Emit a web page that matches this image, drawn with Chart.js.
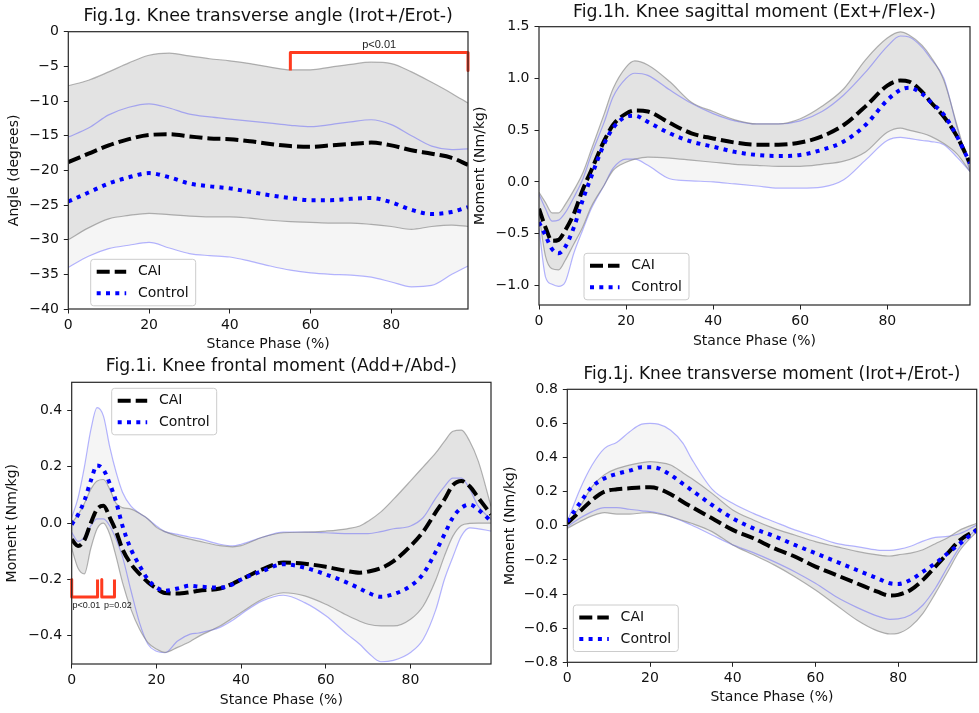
<!DOCTYPE html>
<html>
<head>
<meta charset="utf-8">
<title>Knee angle and moments, CAI vs Control</title>
<script src="https://cdn.jsdelivr.net/npm/chart.js@4.4.1/dist/chart.umd.min.js"></script>
<style>
  html, body { margin: 0; padding: 0; background: #fff; }
  #figure { position: relative; width: 979px; height: 713px; overflow: hidden; }
  #figure canvas { position: absolute; }
</style>
</head>
<body>
<div id="figure"></div>
<script>
// ---------- shared ----------
const xTickValues = [0, 20, 40, 60, 80];
const seriesNames = ['CAI', 'Control'];

// ---------- Fig.1g knee transverse angle (deg) ----------
const gStance   = [0, 5, 10, 15, 20, 25, 30, 35, 40, 45, 50, 55, 60, 65, 70, 75, 80, 85, 90, 95, 99];
const gCaiMean  = [-18.8, -17.6, -16.4, -15.5, -14.9, -14.8, -15.1, -15.4, -15.5, -15.8, -16.2, -16.5, -16.6, -16.4, -16.2, -16.0, -16.4, -17.1, -17.6, -18.2, -19.2];
const gCaiUpper = [-7.8, -7.0, -5.8, -4.5, -3.4, -3.1, -3.5, -3.9, -4.2, -4.6, -5.1, -5.5, -5.5, -5.1, -4.7, -4.4, -4.6, -5.8, -7.3, -8.9, -10.3];
const gCaiLower = [-30.0, -28.3, -27.0, -26.5, -26.2, -26.4, -26.6, -26.7, -26.7, -26.9, -27.2, -27.4, -27.5, -27.6, -27.6, -27.8, -28.1, -28.5, -28.1, -27.9, -28.1];
const gCtlMean  = [-24.5, -23.2, -21.9, -21.0, -20.4, -21.0, -21.9, -22.3, -22.6, -23.1, -23.6, -24.0, -24.3, -24.3, -24.1, -24.0, -24.6, -25.7, -26.3, -26.0, -25.3];
const gCtlUpper = [-15.2, -13.9, -12.0, -10.9, -10.4, -11.0, -11.9, -12.3, -12.6, -12.9, -13.2, -13.5, -13.7, -13.4, -13.0, -12.7, -13.4, -15.0, -16.5, -17.0, -16.9];
const gCtlLower = [-34.0, -32.4, -31.3, -30.8, -30.4, -31.2, -32.0, -32.3, -32.5, -33.1, -33.8, -34.4, -34.8, -35.0, -35.1, -35.4, -36.1, -36.8, -36.6, -35.0, -33.8];
const gYTicks   = [0, -5, -10, -15, -20, -25, -30, -35, -40];
const gSigX     = [[55, 55, 99, 99]];
const gSigY     = [[-5.6, -3.0, -3.0, -5.6]];
const gSigText  = ['p<0.01'];
const gSigTextX = [77];
const gSigTextY = [-1.9];

// ---------- Fig.1h knee sagittal moment (Nm/kg) ----------
const hStance   = [0, 1.5, 3, 4.5, 6, 8, 10, 12, 15, 17, 20, 22, 25, 30, 35, 40, 45, 50, 55, 60, 65, 70, 75, 80, 83, 85, 88, 90, 93, 96, 99];
const hCaiMean  = [-0.26, -0.44, -0.57, -0.56, -0.47, -0.31, -0.08, 0.11, 0.40, 0.55, 0.66, 0.69, 0.68, 0.57, 0.47, 0.42, 0.38, 0.36, 0.36, 0.38, 0.44, 0.55, 0.73, 0.93, 0.98, 0.97, 0.87, 0.77, 0.63, 0.44, 0.18];
const hCaiUpper = [-0.10, -0.20, -0.30, -0.30, -0.22, -0.08, 0.08, 0.31, 0.66, 0.90, 1.11, 1.17, 1.13, 0.97, 0.77, 0.68, 0.60, 0.56, 0.56, 0.61, 0.73, 0.90, 1.18, 1.39, 1.45, 1.42, 1.32, 1.21, 0.98, 0.55, 0.11];
const hCaiLower = [-0.32, -0.72, -0.84, -0.85, -0.76, -0.60, -0.44, -0.24, -0.03, 0.11, 0.19, 0.22, 0.24, 0.23, 0.21, 0.19, 0.17, 0.16, 0.15, 0.15, 0.17, 0.20, 0.29, 0.48, 0.52, 0.50, 0.47, 0.44, 0.37, 0.27, 0.10];
const hCtlMean  = [-0.39, -0.52, -0.65, -0.69, -0.63, -0.44, -0.18, 0.05, 0.37, 0.52, 0.63, 0.64, 0.58, 0.47, 0.39, 0.34, 0.29, 0.26, 0.25, 0.26, 0.31, 0.39, 0.55, 0.79, 0.89, 0.91, 0.85, 0.77, 0.65, 0.44, 0.18];
const hCtlUpper = [-0.12, -0.26, -0.38, -0.37, -0.30, -0.15, 0.02, 0.26, 0.58, 0.82, 1.00, 1.05, 1.03, 0.89, 0.76, 0.66, 0.59, 0.56, 0.56, 0.59, 0.68, 0.84, 1.06, 1.31, 1.41, 1.40, 1.30, 1.19, 1.00, 0.53, 0.10];
const hCtlLower = [-0.45, -0.92, -0.99, -1.01, -0.97, -0.69, -0.47, -0.26, -0.03, 0.13, 0.22, 0.22, 0.16, 0.03, 0.01, 0.00, -0.02, -0.04, -0.06, -0.06, -0.05, 0.02, 0.21, 0.40, 0.43, 0.42, 0.40, 0.39, 0.36, 0.24, 0.10];
const hYTicks   = [-1.0, -0.5, 0.0, 0.5, 1.0, 1.5];

// ---------- Fig.1i knee frontal moment (Nm/kg) ----------
const iStance   = [0, 1.5, 3, 4.5, 6, 7.5, 9, 10.5, 12, 14, 16, 18, 20, 22, 25, 28, 30, 35, 38, 40, 45, 50, 55, 60, 65, 68, 70, 73, 76, 80, 83, 86, 88, 90, 92, 94, 96, 99];
const iCaiMean  = [-0.058, -0.081, -0.06, 0.0, 0.05, 0.062, 0.02, -0.03, -0.093, -0.145, -0.18, -0.21, -0.232, -0.248, -0.25, -0.245, -0.24, -0.232, -0.215, -0.2, -0.164, -0.14, -0.144, -0.155, -0.17, -0.176, -0.172, -0.16, -0.135, -0.081, -0.03, 0.04, 0.084, 0.135, 0.15, 0.13, 0.09, 0.031];
const iCaiUpper = [0.0, 0.03, 0.07, 0.12, 0.15, 0.155, 0.12, 0.07, 0.055, 0.05, 0.035, 0.015, -0.015, -0.03, -0.046, -0.057, -0.064, -0.08, -0.084, -0.08, -0.05, -0.034, -0.032, -0.028, -0.02, -0.01, 0.007, 0.04, 0.085, 0.15, 0.2, 0.25, 0.29, 0.326, 0.33, 0.29, 0.22, 0.06];
const iCaiLower = [-0.09, -0.16, -0.18, -0.09, -0.02, 0.0, -0.04, -0.12, -0.211, -0.306, -0.376, -0.424, -0.447, -0.459, -0.441, -0.42, -0.402, -0.365, -0.337, -0.317, -0.27, -0.247, -0.258, -0.288, -0.327, -0.348, -0.359, -0.365, -0.365, -0.341, -0.294, -0.2, -0.117, -0.046, -0.008, -0.001, 0.0, 0.0];
const iCtlMean  = [-0.005, 0.03, 0.08, 0.15, 0.205, 0.19, 0.14, 0.075, -0.01, -0.093, -0.15, -0.2, -0.228, -0.24, -0.232, -0.222, -0.225, -0.229, -0.217, -0.2, -0.17, -0.146, -0.158, -0.182, -0.211, -0.232, -0.247, -0.261, -0.252, -0.223, -0.18, -0.1, -0.04, 0.02, 0.054, 0.066, 0.048, 0.007];
const iCtlUpper = [0.02, 0.09, 0.2, 0.33, 0.41, 0.38, 0.27, 0.18, 0.11, 0.06, 0.035, 0.015, -0.01, -0.03, -0.04, -0.05, -0.055, -0.075, -0.081, -0.075, -0.05, -0.032, -0.032, -0.034, -0.037, -0.037, -0.037, -0.03, -0.02, -0.01, 0.02, 0.09, 0.13, 0.16, 0.16, 0.12, 0.06, 0.013];
const iCtlLower = [-0.033, -0.065, -0.05, -0.01, 0.015, 0.015, -0.01, -0.058, -0.12, -0.24, -0.353, -0.43, -0.455, -0.46, -0.418, -0.394, -0.39, -0.37, -0.345, -0.323, -0.276, -0.256, -0.282, -0.329, -0.394, -0.43, -0.46, -0.492, -0.487, -0.459, -0.412, -0.306, -0.2, -0.12, -0.046, -0.017, -0.02, -0.028];
const iYTicks   = [-0.4, -0.2, 0.0, 0.2, 0.4];
const iSigX     = [[0, 0, 6.1, 6.1], [7.1, 7.1, 10.1, 10.1]];
const iSigY     = [[-0.2, -0.262, -0.262, -0.2], [-0.2, -0.262, -0.262, -0.2]];
const iSigText  = ['p<0.01', 'p=0.02'];
const iSigTextX = [0.2, 7.6];
const iSigTextY = [-0.294, -0.294];

// ---------- Fig.1j knee transverse moment (Nm/kg) ----------
const jStance   = [0, 3, 6, 9, 12, 15, 18, 20, 22, 25, 28, 30, 35, 40, 45, 50, 55, 60, 65, 70, 75, 78, 80, 83, 86, 89, 92, 95, 99];
const jCaiMean  = [0.015, 0.083, 0.151, 0.2, 0.214, 0.22, 0.225, 0.226, 0.218, 0.185, 0.14, 0.112, 0.044, -0.024, -0.073, -0.132, -0.18, -0.239, -0.288, -0.337, -0.386, -0.409, -0.405, -0.376, -0.317, -0.239, -0.161, -0.083, -0.024];
const jCaiUpper = [0.005, 0.11, 0.23, 0.3, 0.335, 0.356, 0.37, 0.376, 0.372, 0.356, 0.31, 0.278, 0.19, 0.093, 0.034, -0.015, -0.054, -0.093, -0.122, -0.15, -0.17, -0.177, -0.17, -0.16, -0.14, -0.105, -0.07, -0.024, 0.015];
const jCaiLower = [-0.015, 0.024, 0.058, 0.077, 0.069, 0.069, 0.075, 0.077, 0.07, 0.054, 0.03, 0.015, -0.034, -0.112, -0.17, -0.229, -0.298, -0.376, -0.464, -0.552, -0.616, -0.634, -0.63, -0.591, -0.513, -0.396, -0.269, -0.142, -0.034];
const jCtlMean  = [0.024, 0.132, 0.229, 0.278, 0.304, 0.323, 0.343, 0.343, 0.337, 0.298, 0.245, 0.21, 0.122, 0.044, -0.015, -0.06, -0.112, -0.161, -0.21, -0.259, -0.308, -0.337, -0.341, -0.317, -0.269, -0.22, -0.161, -0.103, -0.024];
const jCtlUpper = [0.024, 0.21, 0.356, 0.454, 0.49, 0.55, 0.596, 0.6, 0.596, 0.56, 0.483, 0.395, 0.215, 0.132, 0.073, 0.024, -0.024, -0.063, -0.103, -0.122, -0.142, -0.144, -0.138, -0.12, -0.09, -0.068, -0.062, -0.045, 0.005];
const jCtlLower = [-0.005, 0.044, 0.083, 0.106, 0.106, 0.097, 0.088, 0.083, 0.075, 0.054, 0.025, 0.005, -0.054, -0.112, -0.157, -0.21, -0.269, -0.337, -0.416, -0.478, -0.529, -0.548, -0.546, -0.523, -0.464, -0.366, -0.24, -0.122, -0.015];
const jYTicks   = [-0.8, -0.6, -0.4, -0.2, 0.0, 0.2, 0.4, 0.6, 0.8];

// ---------- styles ----------
const FONT = '"DejaVu Sans", sans-serif';
const TEXT = '#111111';
const CAI_COLOR = '#000000';
const CTL_COLOR = '#0000ff';
const CAI_FILL = '#e3e3e3';
const CTL_FILL = '#f5f5f5';
const CAI_EDGE = 'rgba(128,128,128,0.6)';
const CTL_EDGE = 'rgba(70,70,255,0.4)';
const SIG_COLOR = '#ff3b1f';

// panel geometry (page pixels): canvas box, plot box, title, legend box
const panels = [
  {
    title: 'Fig.1g. Knee transverse angle (Irot+/Erot-)', titleSize: 17.4, titleY: 16.7,
    yLabel: 'Angle (degrees)', decimals: 0, yMin: -40, yMax: 0,
    canvas: [0, 0, 470, 356], plot: [68.3, 31.7, 468, 309],
    yTitleX: 14, xTitleY: 344, legend: [90.7, 259.3],
    x: gStance, cai: [gCaiMean, gCaiUpper, gCaiLower], ctl: [gCtlMean, gCtlUpper, gCtlLower],
    yTicks: gYTicks, sigX: gSigX, sigY: gSigY, sigText: gSigText, sigTextX: gSigTextX, sigTextY: gSigTextY,
    sigFont: '11px "Liberation Sans", sans-serif', sigAlign: 'center'
  },
  {
    title: 'Fig.1h. Knee sagittal moment (Ext+/Flex-)', titleSize: 17.3, titleY: 12.3,
    yLabel: 'Moment (Nm/kg)', decimals: 1, yMin: -1.19, yMax: 1.5,
    canvas: [470, 0, 979, 356], plot: [539, 26.7, 970, 305],
    yTitleX: 480, xTitleY: 341.7, legend: [584, 253.3],
    x: hStance, cai: [hCaiMean, hCaiUpper, hCaiLower], ctl: [hCtlMean, hCtlUpper, hCtlLower],
    yTicks: hYTicks, sigX: [], sigY: [], sigText: [], sigTextX: [], sigTextY: []
  },
  {
    title: 'Fig.1i. Knee frontal moment (Add+/Abd-)', titleSize: 17.2, titleY: 366.7,
    yLabel: 'Moment (Nm/kg)', decimals: 1, yMin: -0.5, yMax: 0.5,
    canvas: [0, 356, 495, 713], plot: [71.7, 382.3, 491, 664],
    yTitleX: 12.3, xTitleY: 700.7, legend: [111.7, 388.3],
    x: iStance, cai: [iCaiMean, iCaiUpper, iCaiLower], ctl: [iCtlMean, iCtlUpper, iCtlLower],
    yTicks: iYTicks, sigX: iSigX, sigY: iSigY, sigText: iSigText, sigTextX: iSigTextX, sigTextY: iSigTextY,
    sigFont: '9px "Liberation Sans", sans-serif', sigAlign: 'left'
  },
  {
    title: 'Fig.1j. Knee transverse moment (Irot+/Erot-)', titleSize: 16.9, titleY: 375,
    yLabel: 'Moment (Nm/kg)', decimals: 1, yMin: -0.8, yMax: 0.8,
    canvas: [495, 356, 979, 713], plot: [567.3, 389.3, 976.7, 662.3],
    yTitleX: 510, xTitleY: 697.3, legend: [573.3, 605],
    x: jStance, cai: [jCaiMean, jCaiUpper, jCaiLower], ctl: [jCtlMean, jCtlUpper, jCtlLower],
    yTicks: jYTicks, sigX: [], sigY: [], sigText: [], sigTextX: [], sigTextY: []
  }
];

const pts = (xs, ys) => xs.map((x, k) => ({ x: x, y: ys[k] }));
const fmt = (v, d) => {
  const s = Math.abs(v) < 1e-9 ? (0).toFixed(d) : v.toFixed(d);
  return s.replace('-', '\u2212');
};

function curve(label, data, color, width, dash, order, fill, bg) {
  return {
    label: label, data: data, borderColor: color, borderWidth: width, borderDash: dash,
    borderCapStyle: 'butt', pointRadius: 0, cubicInterpolationMode: 'monotone',
    order: order, fill: fill, backgroundColor: bg
  };
}

// frame, title, legend and p-value labels
function decorPlugin(p) {
  const ox = p.canvas[0], oy = p.canvas[1];
  return {
    id: 'decor',
    afterDraw(chart) {
      const ctx = chart.ctx;
      const a = chart.chartArea;
      ctx.save();
      ctx.strokeStyle = '#262626';
      ctx.lineWidth = 1.2;
      ctx.strokeRect(a.left, a.top, a.right - a.left, a.bottom - a.top);

      ctx.fillStyle = TEXT;
      ctx.font = p.titleSize + 'px ' + FONT;
      ctx.textAlign = 'center';
      ctx.textBaseline = 'middle';
      ctx.fillText(p.title, (a.left + a.right) / 2, p.titleY - oy);

      // significance labels
      if (p.sigText.length) {
        const xs = chart.scales.x, ys = chart.scales.y;
        ctx.font = p.sigFont;
        ctx.fillStyle = '#222222';
        ctx.textAlign = p.sigAlign;
        p.sigText.forEach((t, k) => {
          ctx.fillText(t, xs.getPixelForValue(p.sigTextX[k]), ys.getPixelForValue(p.sigTextY[k]));
        });
      }

      // legend
      const lx = p.legend[0] - ox, ly = p.legend[1] - oy;
      ctx.beginPath();
      ctx.roundRect(lx, ly, 105, 46.5, 3);
      ctx.fillStyle = 'rgba(255,255,255,0.8)';
      ctx.fill();
      ctx.strokeStyle = '#cccccc';
      ctx.lineWidth = 1;
      ctx.stroke();
      const rows = [
        { name: seriesNames[0], color: CAI_COLOR, dash: [13, 5], y: ly + 12.4 },
        { name: seriesNames[1], color: CTL_COLOR, dash: [4, 5.3], y: ly + 34 }
      ];
      rows.forEach(r => {
        ctx.beginPath();
        ctx.setLineDash(r.dash);
        ctx.lineCap = 'butt';
        ctx.strokeStyle = r.color;
        ctx.lineWidth = 4;
        ctx.moveTo(lx + 6, r.y);
        ctx.lineTo(lx + 35.5, r.y);
        ctx.stroke();
        ctx.setLineDash([]);
        ctx.fillStyle = TEXT;
        ctx.font = '14px ' + FONT;
        ctx.textAlign = 'left';
        ctx.textBaseline = 'middle';
        ctx.fillText(r.name, lx + 47.3, r.y);
      });
      ctx.restore();
    }
  };
}

const figure = document.getElementById('figure');

panels.forEach(p => {
  const [cx0, cy0, cx1, cy1] = p.canvas;
  const [L, T, R, B] = p.plot;
  const cv = document.createElement('canvas');
  cv.width = cx1 - cx0;
  cv.height = cy1 - cy0;
  cv.style.left = cx0 + 'px';
  cv.style.top = cy0 + 'px';
  cv.style.width = (cx1 - cx0) + 'px';
  cv.style.height = (cy1 - cy0) + 'px';
  figure.appendChild(cv);

  const yAxisW = L - cx0;
  const xAxisH = cy1 - B;
  const titleLH = 14 * 1.2;

  const datasets = [
    curve(seriesNames[1] + ' +SD', pts(p.x, p.ctl[1]), CTL_EDGE, 1.2, [], 4, '+1', CTL_FILL),
    curve(seriesNames[1] + ' -SD', pts(p.x, p.ctl[2]), CTL_EDGE, 1.2, [], 4, false, 'transparent'),
    curve(seriesNames[0] + ' +SD', pts(p.x, p.cai[1]), CAI_EDGE, 1.2, [], 3, '+1', CAI_FILL),
    curve(seriesNames[0] + ' -SD', pts(p.x, p.cai[2]), CAI_EDGE, 1.2, [], 3, false, 'transparent'),
    curve(seriesNames[0], pts(p.x, p.cai[0]), CAI_COLOR, 4, [13, 5], 1, false, 'transparent'),
    curve(seriesNames[1], pts(p.x, p.ctl[0]), CTL_COLOR, 4, [4, 5.3], 0, false, 'transparent')
  ];
  p.sigX.forEach((xs, k) => {
    datasets.push({
      label: 'sig' + k, data: pts(xs, p.sigY[k]), borderColor: SIG_COLOR, borderWidth: 3,
      borderJoinStyle: 'round', pointRadius: 0, tension: 0, order: 0, fill: false, clip: false
    });
  });

  new Chart(cv, {
    type: 'line',
    data: { datasets: datasets },
    options: {
      responsive: false,
      animation: false,
      devicePixelRatio: 1,
      layout: { padding: { left: 0, top: T - cy0, right: cx1 - R, bottom: 0 } },
      plugins: {
        legend: { display: false },
        title: { display: false },
        tooltip: { enabled: false },
        filler: { drawTime: 'beforeDatasetsDraw' }
      },
      scales: {
        x: {
          type: 'linear', min: 0, max: 99,
          afterFit: s => { s.height = xAxisH; },
          afterBuildTicks: s => { s.ticks = xTickValues.map(v => ({ value: v })); },
          grid: { display: true, drawOnChartArea: false, drawTicks: true, tickLength: 4.5, color: '#222222', lineWidth: 1 },
          border: { display: false },
          ticks: { color: TEXT, font: { family: FONT, size: 14 }, padding: 3.5, maxRotation: 0,
                   callback: v => String(v) },
          title: { display: true, text: 'Stance Phase (%)', color: TEXT, font: { family: FONT, size: 14 },
                   padding: { top: 0, bottom: (cy1 - p.xTitleY) - titleLH / 2 } }
        },
        y: {
          type: 'linear', min: p.yMin, max: p.yMax,
          afterFit: s => { s.width = yAxisW; },
          afterBuildTicks: s => { s.ticks = p.yTicks.map(v => ({ value: v })); },
          grid: { display: true, drawOnChartArea: false, drawTicks: true, tickLength: 4.5, color: '#222222', lineWidth: 1 },
          border: { display: false },
          ticks: { color: TEXT, font: { family: FONT, size: 14 }, padding: 5,
                   callback: v => fmt(v, p.decimals) },
          title: { display: true, text: p.yLabel, color: TEXT, font: { family: FONT, size: 14 },
                   padding: { top: (p.yTitleX - cx0) - titleLH / 2, bottom: 0 } }
        }
      }
    },
    plugins: [decorPlugin(p)]
  });
});
</script>
</body>
</html>
